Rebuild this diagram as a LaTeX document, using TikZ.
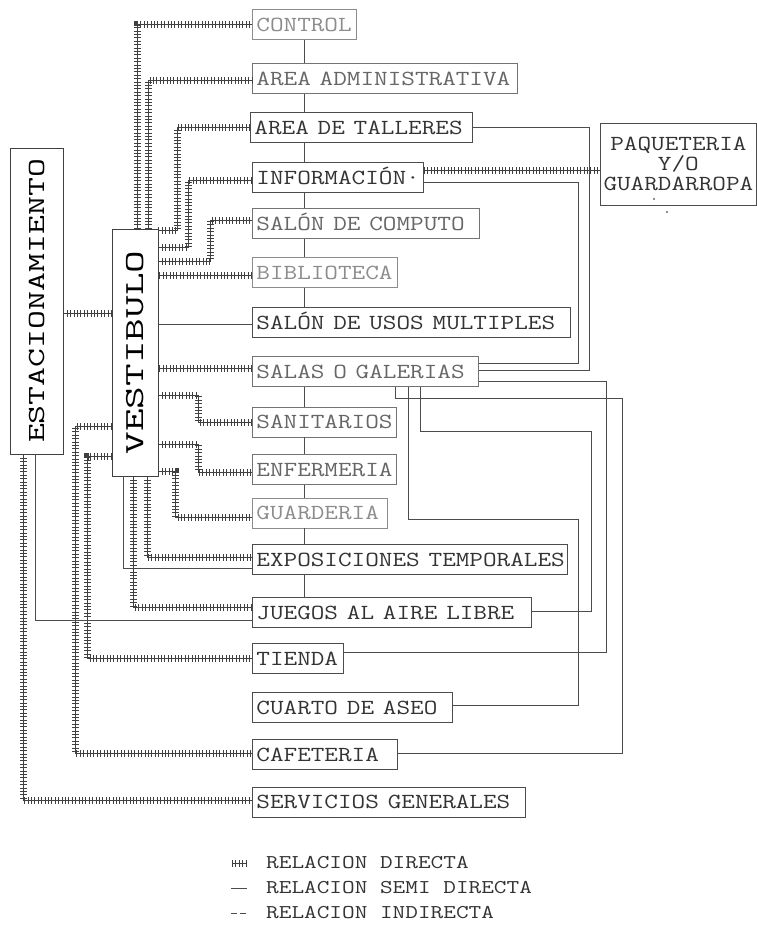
\documentclass[tikz,border=0pt]{standalone}
\usepackage{fontspec}
\usepackage{graphicx}
\newcommand{\sx}[1]{\scalebox{1.23}[1]{#1}}
\newcommand{\sxl}[1]{\scalebox{1.26}[1]{#1}}
\begin{document}
\begin{tikzpicture}[x=1pt,y=-1pt,
  bx/.style={draw=black!70, line width=0.8pt, anchor=west, inner xsep=4pt, inner ysep=0pt,
    minimum height=30pt, text height=13pt, text depth=0pt, align=left,
    font=\ttfamily\fontsize{21.5}{24}\selectfont, text=black!80},
  faded/.style={draw=black!45, text=black!45},
  midtone/.style={draw=black!55, text=black!60},
  direct/.style={draw=black!75, line width=0.7pt,
    postaction={draw=black!75, line width=7pt, dash pattern=on 0.8pt off 2.6pt}},
  semi/.style={draw=black!70, line width=0.8pt},
  leg/.style={anchor=west, inner sep=0pt, text height=11.7pt, text depth=0pt,
    font=\ttfamily\fontsize{19.5}{22}\selectfont, text=black!80}]
\useasboundingbox (0,0) rectangle (757,929);

% ---- boxes column ----
\node[bx, faded, text width=96pt]  (control) at (252,24.5)  {\sx{CONTROL}};
\node[bx, midtone, text width=257pt] (admin) at (252,78.5)  {\sx{AREA ADMINISTRATIVA}};
\node[bx, text width=214pt] (talleres) at (250,127.5) {\sx{AREA DE TALLERES}};
\node[bx, text width=163pt] (info)     at (252,177.5) {\sx{INFORMACIÓN·}};
\node[bx, midtone, text width=219pt] (computo) at (252,223.5) {\sx{SALÓN DE COMPUTO}};
\node[bx, faded, text width=137pt] (biblio) at (252,272.5) {\sx{BIBLIOTECA}};
\node[bx, text width=310pt] (usos)     at (252,322.5) {\sx{SALÓN DE USOS MULTIPLES}};
\node[bx, midtone, text width=218pt] (salas) at (252,371.5) {\sx{SALAS O GALERIAS}};
\node[bx, midtone, text width=136pt] (sanit) at (252,422)   {\sx{SANITARIOS}};
\node[bx, midtone, text width=136pt] (enf)   at (252,469.5) {\sx{ENFERMERIA}};
\node[bx, faded, text width=127pt] (guard)   at (252,513)   {\sx{GUARDERIA}};
\node[bx, text width=307pt] (expo)     at (252,559.5) {\sx{EXPOSICIONES TEMPORALES}};
\node[bx, text width=271pt] (juegos)   at (252,612.5) {\sx{JUEGOS AL AIRE LIBRE}};
\node[bx, text width=83pt]  (tienda)   at (252,658.5) {\sx{TIENDA}};
\node[bx, text width=192pt] (cuarto)   at (252,707.5) {\sx{CUARTO DE ASEO}};
\node[bx, text width=137pt] (cafe)     at (252,754.5) {\sx{CAFETERIA}};
\node[bx, text width=265pt] (serv)     at (252,802)   {\sx{SERVICIOS GENERALES}};

\node[draw=black!70, line width=0.8pt, anchor=west, minimum width=156pt, minimum height=82pt,
  inner sep=0pt, align=center, font=\ttfamily\fontsize{21.5}{20}\selectfont, text=black!80]
  (paq) at (600,164) {\sx{PAQUETERIA}\\\sx{Y/O}\\\sx{GUARDARROPA}};

\node[draw=black!75, line width=0.8pt, minimum width=46pt, minimum height=247pt, inner sep=0pt]
  (vest) at (135,352.5)
  {\rotatebox{90}{\scalebox{1.6}[1]{\ttfamily\fontsize{27.5}{28}\selectfont VESTIBULO}}};
\node[draw=black!75, line width=0.8pt, minimum width=53pt, minimum height=306pt, inner sep=0pt]
  (estac) at (36.5,301)
  {\rotatebox{90}{\scalebox{1.5}[1]{\ttfamily\fontsize{24.5}{25}\selectfont ESTACIONAMIENTO}}};

% ---- vertical semi-direct chain ----
\coordinate (xc) at (304,0);
\foreach \a/\b in {control/admin, admin/talleres, talleres/info, info/computo,
                   computo/biblio, biblio/usos, salas/sanit, sanit/enf, enf/guard,
                   guard/expo, expo/juegos}
  \draw[semi] (\a.south -| xc) -- (\b.north -| xc);

% ---- direct relations from VESTIBULO ----
\draw[direct] ([xshift=2pt]vest.north) |- (control.west);
\draw[direct] ([xshift=13pt]vest.north) |- ([yshift=-2pt]admin.west);
\draw[direct] (vest.north east) ++(0,2) -- ++(19,0) |- (talleres.west);
\draw[direct] (vest.north east) ++(0,19) -- ++(30,0) |- ([yshift=-2.5pt]info.west);
\draw[direct] (vest.north east) ++(0,33) -- ++(52,0) |- ([yshift=3.5pt]computo.west);
\coordinate (pB) at ([yshift=-2.5pt]biblio.west);
\draw[direct] (pB) -- (pB -| vest.east);
\coordinate (pU) at ([yshift=-1.5pt]usos.west);
\draw[semi] (pU) -- (pU -| vest.east);
\coordinate (pS) at ([yshift=3.5pt]salas.west);
\draw[direct] (pS) -- (pS -| vest.east);
\draw[direct] (vest.north east) ++(0,167) -- ++(40,0) |- (sanit.west);
\draw[direct] (vest.north east) ++(0,216) -- ++(40,0) |- ([yshift=-2.5pt]enf.west);
\draw[direct] (vest.north east) ++(0,243) -- ++(17,0) |- ([yshift=-4pt]guard.west);
\draw[direct] ([xshift=12pt]vest.south) |- ([yshift=2.5pt]expo.west);
\draw[semi] ([xshift=-12pt]vest.south) |- ([yshift=-8.5pt]expo.west);
\draw[direct] ([xshift=-2pt]vest.south) |- ([yshift=5.5pt]juegos.west);
\draw[direct] (vest.north west) ++(0,228) -- ++(-24,0) |- (tienda.west);
\draw[direct] (vest.north west) ++(0,198) -- ++(-36,0) |- ([yshift=1pt]cafe.west);

% ---- ESTACIONAMIENTO ----
\coordinate (pE) at ([yshift=-12pt]estac.east);
\draw[direct] (pE) -- (pE -| vest.west);
\draw[semi] ([xshift=-1.5pt]estac.south) |- ([yshift=-7.5pt]juegos.west);
\draw[direct] ([xshift=-13.5pt]estac.south) |- ([yshift=2pt]serv.west);

% ---- right side ----
\coordinate (pI) at ([yshift=7.5pt]info.east);
\draw[direct] (pI) -- (pI -| paq.west);
\draw[semi] (talleres.east) -- ++(117,0) |- ([yshift=1.5pt]salas.east);
\draw[semi] ([yshift=-4.5pt]info.east) -- ++(155,0) |- ([yshift=8.5pt]salas.east);
\draw[semi] ([yshift=-9.5pt]salas.east) -- ++(128,0) |- ([yshift=6.5pt]tienda.east);
\draw[semi] ([xshift=143pt]salas.south west) -- ++(0,11) -- ++(227,0) |- ([yshift=1pt]cafe.east);
\draw[semi] ([xshift=156pt]salas.south west) -- ++(0,132) -- ++(170,0) |- ([yshift=2.5pt]cuarto.east);
\draw[semi] ([xshift=168pt]salas.south west) -- ++(0,44) -- ++(171,0) |- ([yshift=1.5pt]juegos.east);

% small marks
\fill[black!60] (654,199) circle (1.1);
\fill[black!60] (667,212) circle (1.1);

% ---- legend ----
\node[leg] (leg1) at (266,863) {\sxl{RELACION DIRECTA}};
\node[leg] (leg2) at (266,888) {\sxl{RELACION SEMI DIRECTA}};
\node[leg] (leg3) at (266,913) {\sxl{RELACION INDIRECTA}};
\draw[direct] ([xshift=-34pt]leg1.west) -- ++(15,0);
\draw[semi] ([xshift=-35pt]leg2.west) -- ++(16,0);
\draw[semi, dash pattern=on 6pt off 2.5pt] ([xshift=-35pt]leg3.west) -- ++(15,0);
\end{tikzpicture}
\end{document}
